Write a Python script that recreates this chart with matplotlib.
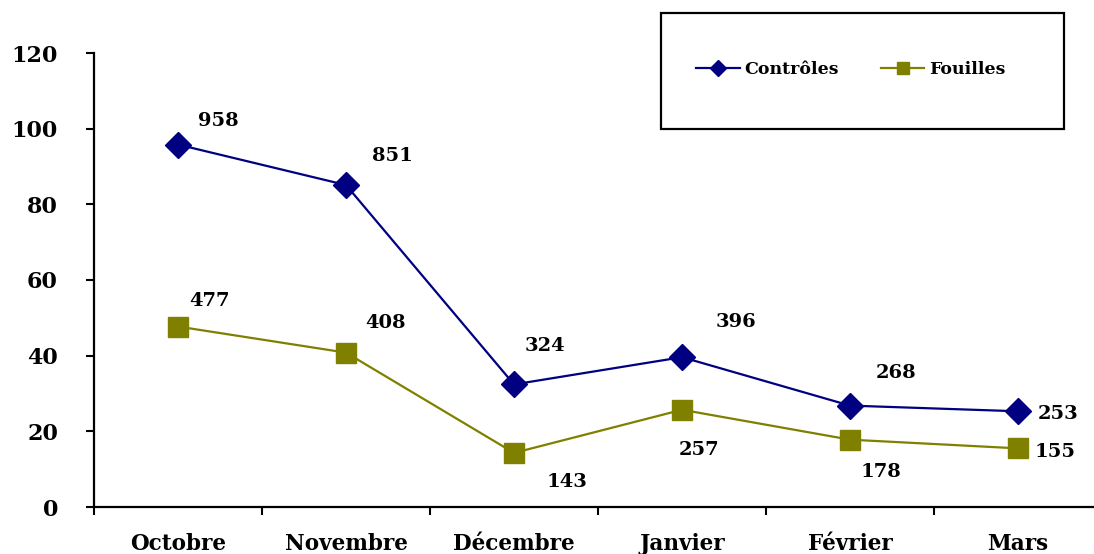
import matplotlib
matplotlib.use("Agg")
import matplotlib.pyplot as plt
from matplotlib.lines import Line2D
from matplotlib.patches import Rectangle

# ----------------- DONNEES -----------------
mois       = ["Octobre", "Novembre", "Décembre", "Janvier", "Février", "Mars"]
controles  = [958, 851, 324, 396, 268, 253]
fouilles   = [477, 408, 143, 257, 178, 155]
# decalage des etiquettes (pixels) par rapport au point
off_ctrl   = [(40, 24), (46, 29), (31, 38), (54, 35), (46, 33), (40, -3)]
off_fouil  = [(32, 26), (39, 30), (53, -29), (17, -40), (31, -32), (37, -4)]
# -------------------------------------------

BLEU  = "#000080"
OLIVE = "#808000"
FONT  = "DejaVu Serif"

W, H = 1094, 554
fig = plt.figure(figsize=(W / 100, H / 100), dpi=100)
ax = fig.add_axes([94 / W, 1 - 507 / H, 1000 / W, 454 / H])

x = list(range(len(mois)))
y_c = [v / 10 for v in controles]
y_f = [v / 10 for v in fouilles]

ax.plot(x, y_c, color=BLEU, lw=1.6, marker="D", ms=13.5,
        mfc=BLEU, mec=BLEU, clip_on=False, zorder=3)
ax.plot(x, y_f, color=OLIVE, lw=1.6, marker="s", ms=15,
        mfc=OLIVE, mec=OLIVE, clip_on=False, zorder=3)

for xi, yi, v, (dx, dy) in zip(x, y_c, controles, off_ctrl):
    ax.annotate(str(v), (xi, yi), xytext=(dx, dy), textcoords="offset pixels",
                ha="center", va="center", fontsize=14, fontweight="bold",
                family=FONT)
for xi, yi, v, (dx, dy) in zip(x, y_f, fouilles, off_fouil):
    ax.annotate(str(v), (xi, yi), xytext=(dx, dy), textcoords="offset pixels",
                ha="center", va="center", fontsize=14, fontweight="bold",
                family=FONT)

ax.set_ylim(0, 120)
ax.set_xlim(-0.5, -0.5 + 1000 / 168)
ax.set_yticks(range(0, 121, 20))
ax.set_yticklabels([str(t) for t in range(0, 121, 20)],
                   fontsize=16, fontweight="bold", family=FONT)

# traits entre les categories, libelles au centre
ax.set_xticks([i - 0.5 for i in range(len(mois))])
ax.set_xticklabels([])
ax.set_xticks(x, minor=True)
ax.set_xticklabels(mois, minor=True, fontsize=15.5, fontweight="bold",
                   family=FONT)
ax.tick_params(axis="x", which="major", length=6, width=1.5, direction="out")
ax.tick_params(axis="x", which="minor", length=0, pad=19)
ax.tick_params(axis="y", length=6, width=1.5, pad=20)

for s in ["top", "right"]:
    ax.spines[s].set_visible(False)
for s in ["left", "bottom"]:
    ax.spines[s].set_linewidth(1.6)

# legende encadree
fig.patches.append(Rectangle((661 / W, 1 - 129 / H), 403 / W, 116 / H,
                             transform=fig.transFigure, fill=False,
                             edgecolor="black", lw=1.6))
handles = [
    Line2D([], [], color=BLEU, lw=1.6, marker="D", ms=8, mfc=BLEU, mec=BLEU),
    Line2D([], [], color=OLIVE, lw=1.6, marker="s", ms=9, mfc=OLIVE, mec=OLIVE),
]
fig.legend(handles, ["Contrôles", "Fouilles"], loc="center",
           bbox_to_anchor=(851 / W, 1 - 70 / H), ncol=2, frameon=False,
           prop={"family": FONT, "weight": "bold", "size": 12.5},
           handlelength=2.5, handletextpad=0.3, columnspacing=2.4)

fig.savefig("out.png", dpi=100)
